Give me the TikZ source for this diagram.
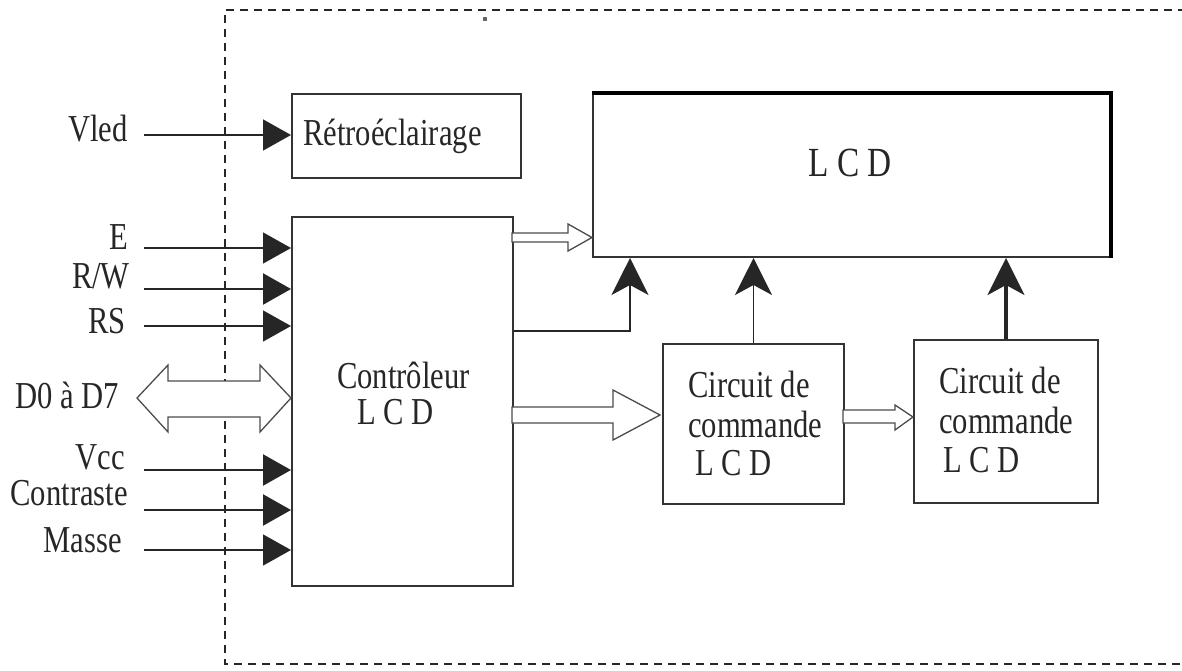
\documentclass[tikz,border=0pt]{standalone}
\usepackage{fontspec}
\usepackage{graphicx}
\setmainfont{Liberation Serif}[FakeStretch=0.9]
\usetikzlibrary{arrows.meta}
\newcommand{\vst}[1]{\scalebox{1}[1.12]{#1}}
\begin{document}
\begin{tikzpicture}[x=1pt,y=-1pt,
  txt/.style={inner sep=0pt, font=\fontsize{34}{40}\selectfont, text=black!85},
  box/.style={draw=black!80, line width=2pt, inner sep=0pt, anchor=north west},
  inarr/.style={line width=1.6pt, black!85, -{Triangle[length=28pt,width=31pt]}},
  inarrb/.style={inarr, line width=2.4pt},
  uparr/.style={line width=1.8pt, black!85, -{Stealth[length=37pt,width=37pt,inset=10pt]}},
  uparrb/.style={uparr, line width=3.5pt},
  hollow/.style={draw=black!70, fill=white, line width=1.3pt, line join=miter},
  frame/.style={line width=2pt, black!85, dash pattern=on 8pt off 6pt}
]
\useasboundingbox (0,0) rectangle (1182,671);
\begin{scope}
\clip (0,0) rectangle (1182,671);
\draw[frame] (1200,10) -- (225,10) -- (225,664) -- (1200,664);
\end{scope}
\fill[black!60] (483,17) rectangle (487,21);

% boxes
\node[box, minimum width=229pt, minimum height=84pt] (retro) at (291,93) {};
\node[box, minimum width=221pt, minimum height=369pt] (ctrl) at (291,216) {};
\node[box, minimum width=517pt, minimum height=163pt] (lcd) at (592,93) {};
\draw[line width=4pt, black, line cap=square] (lcd.north west) -- (lcd.north east) -- (lcd.south east);
\node[box, minimum width=181pt, minimum height=160pt] (cc1) at (662,343) {};
\node[box, minimum width=184pt, minimum height=163pt] (cc2) at (913,339) {};

% texts in boxes
\node[txt, anchor=base west] (tretro) at (303,146) {\vst{Rétroéclairage}};
\node[txt, anchor=base west, text depth=0pt] (tctrl1) at (337,388) {\vst{Contrôleur}};
\node[txt, anchor=base west, text height=23pt] (tctrl2) at (357,424) {\vst{L C D}};
\node[txt, anchor=base, font=\fontsize{37}{42}\selectfont] (tlcd) at (850,177) {\vst{L C D}};
\node[txt, anchor=base west] (tc1a) at (688,397) {\vst{Circuit de}};
\node[txt, anchor=base west] (tc1b) at (688,437) {\vst{commande}};
\node[txt, anchor=base west] (tc1c) at (695,475) {\vst{L C D}};
\node[txt, anchor=base west] (tc2a) at (939,393) {\vst{Circuit de}};
\node[txt, anchor=base west] (tc2b) at (939,433) {\vst{commande}};
\node[txt, anchor=base west] (tc2c) at (943,472) {\vst{L C D}};

% left labels
\node[txt, anchor=base east] (lvled) at (128,142) {\vst{Vled}};
\node[txt, anchor=base east] (le) at (128,249) {\vst{E}};
\node[txt, anchor=base east] (lrw) at (130,288) {\vst{R/W}};
\node[txt, anchor=base east] (lrs) at (126,333) {\vst{RS}};
\node[txt, anchor=base east] (ld) at (119,408) {\vst{D0 à D7}};
\node[txt, anchor=base east, text depth=0pt] (lvcc) at (125,469) {\vst{Vcc}};
\node[txt, anchor=base east, text height=24pt] (lcon) at (128,505) {\vst{Contraste}};
\node[txt, anchor=base east] (lmas) at (122,552) {\vst{Masse}};

% input connectors
\coordinate (pvled) at (144,135);
\coordinate (pe) at (144,248);
\coordinate (prw) at (144,289);
\coordinate (prs) at (144,326);
\coordinate (pvcc) at (144,470);
\coordinate (pcon) at (144,510);
\coordinate (pmas) at (144,550);
\draw[inarr] (pvled) -- (pvled -| retro.west);
\draw[inarr] (pe) -- (pe -| ctrl.west);
\draw[inarrb] (prw) -- (prw -| ctrl.west);
\draw[inarr] (prs) -- (prs -| ctrl.west);
\draw[inarrb] (pvcc) -- (pvcc -| ctrl.west);
\draw[inarrb] (pcon) -- (pcon -| ctrl.west);
\draw[inarr] (pmas) -- (pmas -| ctrl.west);

% data bus double arrow
\draw[hollow] (137,398) -- (168,365) -- (168,381) -- (260,381) -- (260,365) -- (291,398)
  -- (260,432) -- (260,417) -- (168,417) -- (168,432) -- cycle;

% hollow arrows
\draw[hollow] (512,233) -- (568,233) -- (568,224) -- (592,237.5) -- (568,251) -- (568,242) -- (512,242) -- cycle;
\draw[hollow] (512,407) -- (613,407) -- (613,390) -- (660,415) -- (613,440) -- (613,423) -- (512,423) -- cycle;
\draw[hollow] (843,410) -- (895,410) -- (895,405) -- (913,417) -- (895,430) -- (895,423) -- (843,423) -- cycle;

% up arrows into LCD
\coordinate (k1) at (630,331);
\draw[uparr] (k1 -| ctrl.east) -| (k1 |- lcd.south);
\draw[uparr] (cc1.north) -- (cc1.north |- lcd.south);
\draw[uparrb] (cc2.north) -- (cc2.north |- lcd.south);
\end{tikzpicture}
\end{document}
